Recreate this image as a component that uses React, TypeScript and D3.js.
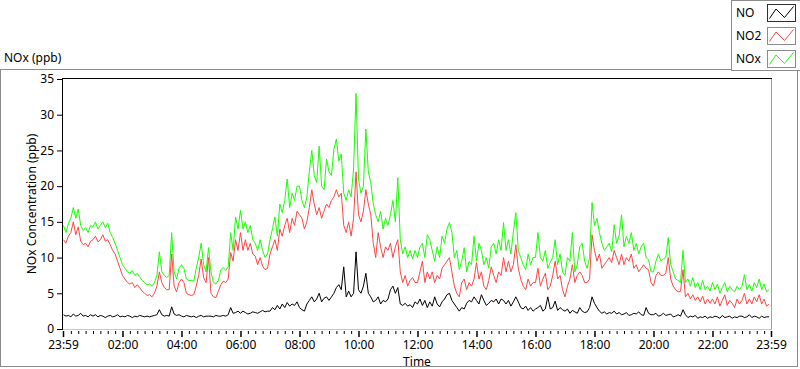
import React, { useEffect, useRef } from 'react';
import * as d3 from 'd3';

// one reading every 5 minutes, one row per hour (00:00 .. 23:55)
const sampleMinutes = 5;

const noxValues = [
  14.5, 13.5, 14.8, 15.5, 17, 15.5, 16.8, 14.5, 13.8, 14.2, 13.5, 14.5,
  14.3, 15, 14, 14.5, 15, 14.2, 14.8, 13.5, 12.8, 12, 11, 10,
  9, 8.5, 8, 7.8, 8.2, 7.5, 7.8, 7.3, 6.8, 6.5, 6.2, 6.3,
  6, 6.5, 7.5, 10.8, 8, 7.5, 7.2, 7.5, 13.5, 8, 7, 8.5,
  9, 8.5, 7, 6.8, 6.8, 6.7, 8.5, 10, 12, 9, 8, 11.4,
  8, 6.5, 6.3, 6.8, 8.3, 8.6, 8.2, 8.7, 13.5, 11, 15.7, 14,
  16.6, 14, 15, 13.5, 14.5, 12.5, 12, 11, 12.5, 11, 10, 10.5,
  12.5, 14, 15.7, 13, 17.5, 16.3, 18, 21, 17, 19, 18, 20,
  20, 18, 17, 18.5, 22, 25, 21.5, 20.5, 25.6, 20, 19.5, 23.8,
  22, 21.5, 25.2, 26.6, 23.5, 24.5, 19, 18, 19.5, 18.5, 22.4, 33,
  21, 19, 20, 28, 22, 20.5, 17.5, 16, 15, 16.5, 14, 15.5,
  14.5, 16, 18, 15, 21.2, 12.5, 10.5, 11.5, 10, 11, 9.8, 11,
  10, 11.5, 12, 10, 13.2, 12.5, 11, 9.5, 11.5, 10, 13, 12,
  14, 14.9, 13.5, 10, 11, 8.3, 9.5, 11.4, 8, 9.5, 9, 13,
  9.5, 12, 11, 9, 10, 8.5, 11.5, 12, 10.5, 12.5, 11, 14.9,
  11, 12.5, 10.5, 13.6, 16.3, 11, 10, 9, 8.3, 10.5, 9, 10,
  10, 13.5, 10, 9.5, 11, 8.5, 9.3, 10, 12.5, 9, 10.5, 8,
  7.5, 10, 9.5, 13.5, 8, 9, 11.5, 12, 9.5, 8.5, 10, 17.7,
  14.5, 15.5, 13.5, 12, 11, 11.5, 12, 10.8, 14.6, 12, 13, 16,
  11.5, 13, 12, 13.5, 11, 12, 10.5, 11.5, 12, 10, 9.7, 8,
  8, 9.5, 10.5, 9.5, 9.8, 10, 12.8, 9, 8, 7, 6.8, 6.5,
  11, 6.5, 7, 6, 7.2, 5.8, 6.5, 5.5, 6.8, 5.5, 6, 5.3,
  6.5, 5.5, 6.3, 5, 5.8, 6.5, 5.2, 6, 5.5, 5.2, 6, 5.5,
  6, 7.6, 5.5, 6.2, 5.3, 6.5, 5.8, 7, 5.5, 6.3, 5.2, 5.5
];

const no2Values = [
  12.5, 12, 13, 13.5, 15, 13.2, 14.3, 12.3, 11.8, 12, 11.5, 12.3,
  12.5, 13, 12.2, 12.5, 13.2, 12.3, 12.5, 11.8, 11, 10.5, 9.5, 8.5,
  7.5, 7, 6.5, 6.3, 6.5, 5.8, 6.2, 5.8, 5.3, 5, 4.7, 4.8,
  4.5, 5, 6, 8, 6.5, 5.8, 5.5, 5.5, 10.5, 6, 5.2, 6.5,
  7, 6.5, 5, 4.8, 4.7, 4.8, 6, 7.5, 9.8, 7.2, 6.5, 10,
  5, 4.5, 4.4, 5.3, 6.2, 6.7, 6.5, 7, 10.7, 9.5, 12.5, 11,
  13.5, 11, 12.5, 11, 12, 10.5, 10.2, 9, 10, 8.8, 8.3, 8.5,
  10.5, 11.5, 12.5, 11, 14, 13, 14.5, 15.5, 13.5, 15.5, 14.5, 16.5,
  16, 15.5, 14, 15, 17, 19.5, 17.5, 16, 17, 15.5, 16.5, 17.5,
  17, 18, 18.5, 19.5, 18.5, 19, 14.5, 13.5, 15, 13, 15.5, 22,
  16, 15, 16.5, 19.5, 17.5, 16, 12, 10, 13.5, 11.5, 10, 11.5,
  11, 12, 10, 11.5, 12.5, 8, 6.5, 7.5, 6, 6.8, 7.2, 6.5,
  6.5, 8, 9.5, 6.5, 8, 7, 8, 6.5, 7.5, 7, 8.5, 9,
  9.5, 10, 8, 6, 5, 4.5, 6.5, 7, 5.5, 6.5, 6, 7,
  9.3, 7, 8, 6, 5.5, 6.8, 8.7, 7.5, 6.5, 8, 7.5, 10,
  8, 9.5, 8, 9, 11.8, 8.5, 7, 6, 5.5, 7, 6, 6.5,
  6.5, 8.5, 6, 7, 7.8, 5.5, 6, 7.5, 9.5, 7, 7.5, 5.5,
  4.5, 6, 7, 9, 6.5, 7.5, 8, 7.5, 6.5, 6.5, 7, 13.2,
  11, 9.5, 10.5, 8.5, 9, 9.5, 10, 9.3, 11, 10, 9, 10.5,
  9, 10, 9.5, 10.5, 8.5, 9, 8, 8.5, 9, 8.5, 8.3, 6.5,
  6, 7.5, 8, 7.5, 7.5, 7.8, 10, 7, 6, 5.5, 5.2, 5.3,
  8.3, 4.5, 5, 4.2, 4.8, 4, 4.5, 3.8, 4.6, 3.5, 4.2, 3.6,
  4.2, 3.5, 4.5, 3.2, 4, 4.8, 3.3, 4, 3.6, 3, 4.2, 3.5,
  4, 5, 3.5, 4.2, 3.5, 4.5, 3.8, 4.8, 3.5, 4.2, 3.2, 3.5
];

const noValues = [
  2, 1.8, 1.9, 1.7, 2.1, 1.8, 1.9, 2.2, 1.8, 1.9, 1.7, 2,
  1.8, 2, 1.7, 1.9, 1.8, 1.6, 1.8, 1.9, 1.7, 1.8, 2, 1.7,
  1.8, 1.7, 1.9, 1.8, 1.6, 1.8, 1.7, 1.9, 1.8, 1.7, 1.8, 1.7,
  1.8, 1.9, 2, 2.7, 2, 1.8, 1.9, 1.8, 3.1, 2.1, 1.9, 2,
  1.8, 1.7, 1.9, 1.8, 1.7, 1.8, 1.6, 1.8, 1.9, 1.7, 1.8, 1.8,
  1.8, 1.7, 1.9, 1.8, 1.8, 1.9, 1.8, 2, 3, 2.2, 2.3, 2.5,
  2.2, 2.5, 2.3, 2.1, 2.2, 2.4, 2.3, 2.2, 2.4, 2.6, 2.4, 2.5,
  2.5, 3, 2.7, 3.3, 2.8, 3.5, 3, 3.7, 3.2, 3.5, 3.3, 3.8,
  3, 2.7, 2.5, 3.5, 4, 4.5, 3.8, 4.2, 5, 3.8, 4.3, 4.5,
  4, 4.5, 5, 5.8, 6.2, 5.5, 8.7, 4.5, 5.3, 4.5, 5, 10.8,
  5.5, 5, 6, 7.8, 5, 4.5, 3.8, 4, 4.5, 3.5, 4, 3.8,
  4.2, 5.5, 6, 5, 5.8, 3.5, 3.3, 3.6, 3.2, 3.4, 3, 3.8,
  3.5, 4.2, 3.3, 4, 3, 3.8, 3.2, 4.5, 3.5, 3.1, 3.8, 4.2,
  4.8, 5, 4, 3.5, 3, 2.5, 3, 2.8, 3.6, 4, 3.8, 4.5,
  4, 3.5, 4.8, 4, 3.3, 3.6, 4, 3.8, 4.2, 3.5, 4.2, 4,
  3.5, 4, 3.2, 3.8, 4.5, 3.8, 3, 2.8, 3.2, 2.6, 3, 2.5,
  2.8, 3, 3.3, 2.5, 2.8, 4.5, 2.8, 3, 3.9, 2.6, 3, 2.7,
  2.5, 2.8, 2.2, 2.6, 2.4, 2.2, 3, 2.5, 2.3, 2.4, 3, 4.5,
  3.6, 3, 2.5, 2.2, 2.4, 2.1, 2.3, 2.2, 2.5, 2.1, 2.3, 2,
  2.1, 2.3, 1.9, 2, 2.2, 2.1, 2.4, 2, 1.9, 3, 2.2, 2,
  2, 2.2, 1.8, 1.9, 2.2, 1.9, 2, 2.1, 1.7, 1.8, 2, 1.8,
  2.7, 2, 1.6, 1.8, 1.7, 1.9, 1.5, 1.7, 1.6, 1.8, 1.5, 1.7,
  1.6, 1.8, 1.7, 1.5, 1.9, 1.6, 1.7, 1.8, 1.5, 1.7, 1.6, 1.8,
  1.8, 1.6, 1.7, 2, 1.6, 1.8, 1.7, 1.5, 1.8, 1.6, 1.7, 1.7
];

const seriesNames = ['NO', 'NO2', 'NOx'];
const seriesColors = ['#000000', '#ff4545', '#17ff00'];

// minutes after midnight -> label (first and last are 23:59)
const timeTickMinutes = [-1, 120, 240, 360, 480, 600, 720, 840, 960, 1080, 1200, 1320, 1439];
const timeTickLabels = ['23:59', '02:00', '04:00', '06:00', '08:00', '10:00', '12:00', '14:00', '16:00', '18:00', '20:00', '22:00', '23:59'];
const yTicks = [0, 5, 10, 15, 20, 25, 30, 35];

const FONT = '"Segoe UI", "Noto Sans", sans-serif';

export default function App() {
  const ref = useRef<SVGSVGElement>(null);

  useEffect(() => {
    const width = 800;
    const height = 369;
    const left = 63;
    const right = 771;
    const top = 79;
    const bottom = 329;

    const svg = d3.select(ref.current);
    svg.selectAll('*').remove();
    svg.attr('width', width).attr('height', height);

    svg.append('rect').attr('width', width).attr('height', height).attr('fill', '#fff');

    // outer panel
    svg.append('rect')
      .attr('x', 0.5).attr('y', 69.5)
      .attr('width', 797).attr('height', 297)
      .attr('fill', 'none').attr('stroke', '#8c8c8c');

    svg.append('text')
      .attr('x', 4).attr('y', 62)
      .style('font-family', FONT).style('font-size', '12px')
      .text('NOx (ppb)');

    const x = d3.scaleLinear().domain([-1, 1439]).range([left, right]);
    const y = d3.scaleLinear().domain([0, 35]).range([bottom, top]);

    // plot frame: dark top/left, light bottom/right
    svg.append('line').attr('x1', left - 1).attr('x2', right + 1).attr('y1', top - 0.5).attr('y2', top - 0.5).attr('stroke', '#000');
    svg.append('line').attr('x1', left - 0.5).attr('x2', left - 0.5).attr('y1', top - 1).attr('y2', bottom + 1).attr('stroke', '#000');
    svg.append('line').attr('x1', right + 0.5).attr('x2', right + 0.5).attr('y1', top).attr('y2', bottom + 1).attr('stroke', '#a0a0a0');
    svg.append('line').attr('x1', left).attr('x2', right + 1).attr('y1', bottom + 0.5).attr('y2', bottom + 0.5).attr('stroke', '#c8c8c8');

    // series, NOx underneath, NO on top
    const series = [noValues, no2Values, noxValues];
    const line = d3.line<number>()
      .x((d, i) => x(i * sampleMinutes))
      .y(d => y(d));

    [2, 1, 0].forEach(k => {
      svg.append('path')
        .datum(series[k])
        .attr('fill', 'none')
        .attr('stroke', seriesColors[k])
        .attr('stroke-width', 1)
        .attr('d', line);
    });

    // y axis
    const yAxis = d3.axisLeft(y).tickValues(yTicks).tickSize(5).tickPadding(3);
    const gy = svg.append('g')
      .attr('transform', `translate(${left - 1},0)`)
      .call(yAxis);
    gy.select('.domain').remove();
    gy.selectAll('line').attr('stroke', '#000');
    gy.selectAll('text').style('font-family', FONT).style('font-size', '12px').attr('fill', '#000');

    // x axis, minor ticks every 15 minutes
    const minorTicks = d3.range(0, 1440, 15).filter(m => m % 120 !== 0);
    const gMinor = svg.append('g')
      .attr('transform', `translate(0,${bottom + 2})`)
      .call(d3.axisBottom(x).tickValues(minorTicks).tickSize(3).tickFormat(() => ''));
    gMinor.select('.domain').remove();
    gMinor.selectAll('line').attr('stroke', '#000');

    const xAxis = d3.axisBottom(x)
      .tickValues(timeTickMinutes)
      .tickSize(6)
      .tickPadding(3)
      .tickFormat((d, i) => timeTickLabels[i]);
    const gx = svg.append('g')
      .attr('transform', `translate(0,${bottom + 2})`)
      .call(xAxis);
    gx.select('.domain').remove();
    gx.selectAll('line').attr('stroke', '#000').attr('stroke-width', 1.5);
    gx.selectAll('text').style('font-family', FONT).style('font-size', '12px').attr('fill', '#000');

    svg.append('text')
      .attr('x', (left + right) / 2).attr('y', 366)
      .attr('text-anchor', 'middle')
      .style('font-family', FONT).style('font-size', '12px')
      .text('Time');

    svg.append('text')
      .attr('transform', `translate(36,${(top + bottom) / 2}) rotate(-90)`)
      .attr('text-anchor', 'middle')
      .style('font-family', FONT).style('font-size', '12px')
      .text('NOx Concentration (ppb)');

    // legend
    const legend = svg.append('g').attr('transform', 'translate(731,0)');
    legend.append('rect')
      .attr('x', 0.5).attr('y', 0.5).attr('width', 69).attr('height', 70)
      .attr('fill', '#fff').attr('stroke', '#8c8c8c');

    const zigzag = [[1.5, 14.5], [8, 5], [16.5, 13.5], [25.5, 2.5]];
    seriesNames.forEach((name, i) => {
      const row = legend.append('g').attr('transform', `translate(0,${4 + i * 23})`);
      row.append('text')
        .attr('x', 5).attr('y', 13)
        .style('font-family', FONT).style('font-size', '12px')
        .text(name);
      row.append('rect')
        .attr('x', 36.5).attr('y', 0.5).attr('width', 28).attr('height', 17)
        .attr('fill', '#fff').attr('stroke', i === 0 ? '#303030' : '#8c8c8c');
      row.append('path')
        .attr('transform', 'translate(37,0)')
        .attr('d', d3.line()(zigzag as [number, number][]))
        .attr('fill', 'none')
        .attr('stroke', seriesColors[i]);
    });
  }, []);

  return (
    <div>
      <svg ref={ref} style={{ position: 'absolute', left: 0, top: 0, display: 'block' }} />
    </div>
  );
}
